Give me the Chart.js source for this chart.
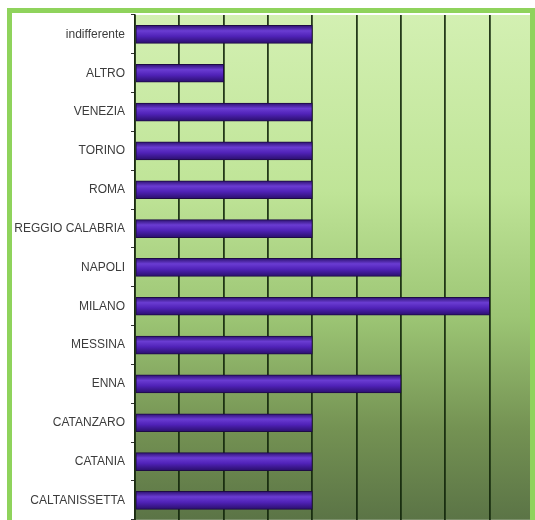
<!DOCTYPE html>
<html>
<head>
<meta charset="utf-8">
<script src="https://cdn.jsdelivr.net/npm/chart.js@4.4.1/dist/chart.umd.min.js"></script>
<style>
  html, body { margin: 0; padding: 0; background: #fff; }
  #wrap { position: relative; width: 535px; height: 520px; overflow: hidden; }
  #chart { position: absolute; left: 0; top: 0; }
  #frame {
    position: absolute; left: 7px; top: 8px; width: 518px; height: 530px;
    border: 5px solid #8fd35c; border-bottom: none; pointer-events: none;
  }
</style>
</head>
<body>
<div id="wrap">
  <canvas id="chart" width="535" height="533"></canvas>
  <div id="frame"></div>
</div>
<script>
// data, top to bottom
const cities = ['indifferente', 'ALTRO', 'VENEZIA', 'TORINO', 'ROMA', 'REGGIO CALABRIA',
  'NAPOLI', 'MILANO', 'MESSINA', 'ENNA', 'CATANZARO', 'CATANIA', 'CALTANISSETTA'];
const counts = [4, 2, 4, 4, 4, 4, 6, 8, 4, 6, 4, 4, 4];
const axisMax = 9;

// green fading background behind the plot
const plotBackground = {
  id: 'plotBackground',
  beforeDraw(chart) {
    const { ctx, chartArea: a } = chart;
    ctx.save();
    ctx.fillStyle = '#ffffff';
    ctx.fillRect(0, 0, chart.width, chart.height);
    const g = ctx.createLinearGradient(0, a.top, 0, a.bottom);
    g.addColorStop(0, '#d3f0b2');
    g.addColorStop(0.35, '#bfe497');
    g.addColorStop(0.6, '#9cc574');
    g.addColorStop(0.82, '#749253');
    g.addColorStop(1, '#5b7446');
    ctx.fillStyle = g;
    ctx.fillRect(a.left, a.top, a.right - a.left, a.bottom - a.top);
    ctx.restore();
  }
};

function barFill(context) {
  const chart = context.chart;
  const y = chart.scales.y;
  if (!y || !chart.chartArea) return '#5426b4';
  const c = y.getPixelForValue(context.dataIndex);
  const g = chart.ctx.createLinearGradient(0, c - 9, 0, c + 9);
  g.addColorStop(0, '#2c1170');
  g.addColorStop(0.3, '#6a3cd2');
  g.addColorStop(0.6, '#5022b8');
  g.addColorStop(1, '#2a0f6c');
  return g;
}

new Chart(document.getElementById('chart'), {
  type: 'bar',
  data: {
    labels: cities,
    datasets: [{
      data: counts,
      backgroundColor: barFill,
      borderColor: '#1e0b45',
      borderWidth: 1,
      borderSkipped: false,
      barThickness: 18
    }]
  },
  options: {
    indexAxis: 'y',
    responsive: false,
    animation: false,
    devicePixelRatio: 1,
    layout: { padding: { top: 15, right: 1, bottom: 0, left: 0 } },
    plugins: {
      legend: { display: false },
      tooltip: { enabled: false }
    },
    scales: {
      x: {
        min: 0,
        max: axisMax,
        ticks: { display: false, stepSize: 1 },
        grid: { color: 'rgba(18,38,10,0.9)', lineWidth: 1.8, drawTicks: false },
        border: { display: false },
        afterFit(scale) { scale.height = 0; }
      },
      y: {
        grid: {
          offset: true,
          drawOnChartArea: false,
          drawTicks: true,
          tickLength: 4,
          color: '#333'
        },
        border: { display: true, color: '#1a2a10', width: 1.5 },
        ticks: {
          color: '#3c3c3c',
          padding: 6,
          font: { family: 'Liberation Sans, Arial, sans-serif', size: 12 }
        },
        afterFit(scale) { scale.width = 135; }
      }
    }
  },
  plugins: [plotBackground]
});
</script>
</body>
</html>
